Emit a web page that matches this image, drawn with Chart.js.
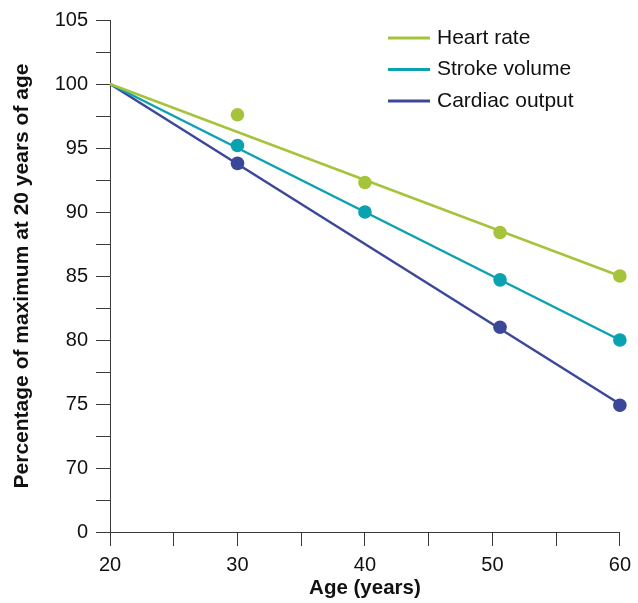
<!DOCTYPE html>
<html>
<head>
<meta charset="utf-8">
<script src="https://cdn.jsdelivr.net/npm/chart.js@4/dist/chart.umd.min.js"></script>
<style>
  html, body { margin: 0; padding: 0; background: #fff; }
  #wrap { width: 638px; height: 603px; }
</style>
</head>
<body>
<div id="wrap"><canvas id="chart" width="638" height="603"></canvas></div>
<script>
// measured points (age in years, % of value at 20)
const ages = [30, 40, 50.6, 60];
const heartRate = [97.6, 92.3, 88.4, 85.0];
const strokeVolume = [95.2, 90.0, 84.7, 80.0];
const cardiacOutput = [93.8, null, 81.0, 74.9];

// fitted lines from age 20 to 60
const fitAges = [20, 60];
const heartRateFit = [100, 85];
const strokeVolumeFit = [100, 80];
const cardiacOutputFit = [100, 75];

const seriesNames = ['Heart rate', 'Stroke volume', 'Cardiac output'];
const seriesColors = ['#a6c43b', '#0aa2b0', '#3b4799'];

// y axis is broken: the bottom tick (65) is labelled 0
const yBreakValue = 65;
const yBreakLabel = '0';

const FONT = "'Liberation Sans', Arial, Helvetica, sans-serif";
const AXIS = '#3a3a3a';
const TEXT = '#111';

function toXY(xs, ys) {
    const out = [];
    xs.forEach((x, i) => { if (ys[i] !== null) out.push({ x: x, y: ys[i] }); });
    return out;
}

const fits = [heartRateFit, strokeVolumeFit, cardiacOutputFit];
const points = [heartRate, strokeVolume, cardiacOutput];

const datasets = [];
fits.forEach((f, i) => {
    datasets.push({
        label: seriesNames[i],
        data: toXY(fitAges, f),
        showLine: true,
        borderColor: seriesColors[i],
        backgroundColor: seriesColors[i],
        borderWidth: 2.5,
        pointRadius: 0,
        isFit: true,
        clip: false
    });
});
points.forEach((p, i) => {
    datasets.push({
        label: seriesNames[i] + ' data',
        data: toXY(ages, p),
        showLine: false,
        backgroundColor: seriesColors[i],
        borderColor: seriesColors[i],
        pointRadius: 6.8,
        pointBorderWidth: 0,
        clip: false
    });
});

// simple legend drawn at top right, lines only
const lineLegend = {
    id: 'lineLegend',
    afterDraw(chart) {
        const ctx = chart.ctx;
        ctx.save();
        ctx.font = '21px ' + FONT;
        ctx.textBaseline = 'middle';
        let row = 0;
        chart.data.datasets.forEach(ds => {
            if (!ds.isFit) return;
            const y = 38 + row * 31.5;
            ctx.strokeStyle = ds.borderColor;
            ctx.lineWidth = 3;
            ctx.beginPath();
            ctx.moveTo(388, y);
            ctx.lineTo(430, y);
            ctx.stroke();
            ctx.fillStyle = TEXT;
            ctx.fillText(ds.label, 437, y);
            row++;
        });
        ctx.restore();
    }
};

new Chart(document.getElementById('chart'), {
    type: 'scatter',
    data: { datasets: datasets },
    options: {
        responsive: false,
        animation: false,
        layout: { padding: { top: 20, right: 16, left: 0, bottom: 0 } },
        plugins: {
            legend: { display: false },
            tooltip: { enabled: false }
        },
        scales: {
            x: {
                type: 'linear',
                min: 20,
                max: 60,
                afterFit: function(scale) { scale.height = 71; },
                grid: {
                    drawOnChartArea: false,
                    drawTicks: true,
                    tickLength: 14,
                    tickColor: AXIS
                },
                border: { color: AXIS, width: 1 },
                ticks: {
                    stepSize: 5,
                    padding: 7,
                    color: TEXT,
                    font: { family: FONT, size: 20 },
                    maxRotation: 0,
                    autoSkip: false,
                    callback: function(v) { return v % 10 === 0 ? String(v) : ''; }
                },
                title: {
                    display: true,
                    text: 'Age (years)',
                    color: TEXT,
                    font: { family: FONT, size: 20.5, weight: 'bold' },
                    padding: { top: 0, bottom: 2 }
                }
            },
            y: {
                type: 'linear',
                min: yBreakValue,
                max: 105,
                afterFit: function(scale) { scale.width = 110; },
                grid: {
                    drawOnChartArea: false,
                    drawTicks: true,
                    tickLength: 14,
                    tickColor: AXIS
                },
                border: { color: AXIS, width: 1 },
                ticks: {
                    stepSize: 2.5,
                    padding: 8,
                    color: TEXT,
                    font: { family: FONT, size: 20 },
                    autoSkip: false,
                    callback: function(v) {
                        if (v === yBreakValue) return yBreakLabel;
                        return v % 5 === 0 ? String(v) : '';
                    }
                },
                title: {
                    display: true,
                    text: 'Percentage of maximum at 20 years of age',
                    color: TEXT,
                    font: { family: FONT, size: 21, weight: 'bold' },
                    padding: { top: 10, bottom: 0 }
                }
            }
        }
    },
    plugins: [lineLegend]
});
</script>
</body>
</html>
